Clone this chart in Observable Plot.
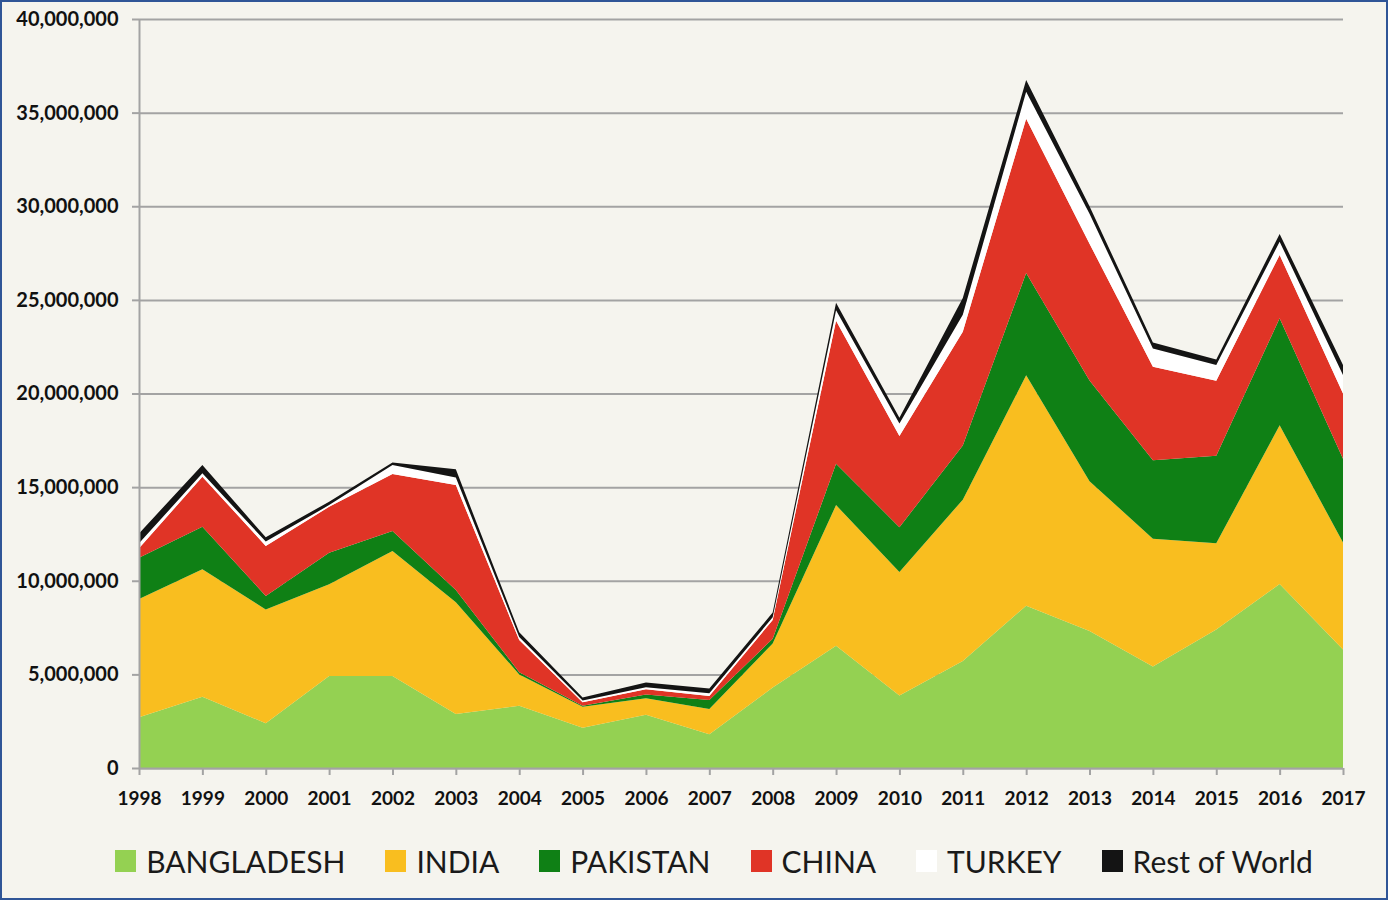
<!DOCTYPE html>
<html>
<head>
<meta charset="utf-8">
<script src="https://cdn.jsdelivr.net/npm/d3@7"></script>
<script src="https://cdn.jsdelivr.net/npm/@observablehq/plot@0.6"></script>
<style>
  html, body { margin: 0; padding: 0; background: #f5f4ee; }
  #page { position: relative; width: 1388px; height: 900px; background: #f5f4ee; overflow: hidden; font-family: Lato, "Open Sans", sans-serif; }
  #frame { position: absolute; left: 0; top: 0; width: 1388px; height: 900px; box-sizing: border-box; border: 2px solid #2f5597; pointer-events: none; }
  #legend { position: absolute; left: 0; top: 843px; width: 1388px; display: flex; justify-content: center; padding-left: 40px; box-sizing: border-box; font-size: 30px; color: #1a1a1a; }
  .item { display: flex; align-items: center; margin-right: 40px; }
  .item:last-child { margin-right: 0; }
  .sw { width: 21px; height: 22px; margin-right: 10px; }
</style>
</head>
<body>
<div id="page">
  <div id="chart"></div>
  <div id="legend"></div>
  <div id="frame"></div>
</div>
<script>
const years = [1998, 1999, 2000, 2001, 2002, 2003, 2004, 2005, 2006, 2007, 2008, 2009, 2010, 2011, 2012, 2013, 2014, 2015, 2016, 2017];
const countries = ["BANGLADESH", "INDIA", "PAKISTAN", "CHINA", "TURKEY", "Rest of World"];
const colors = ["#94d152", "#f9be1f", "#0f8015", "#e03426", "#ffffff", "#141414"];

const bangladesh = [2710000, 3810000, 2390000, 4910000, 4910000, 2880000, 3320000, 2150000, 2850000, 1800000, 4300000, 6530000, 3870000, 5710000, 8670000, 7320000, 5420000, 7390000, 9830000, 6330000];
const india      = [6320000, 6800000, 6080000, 4900000, 6680000, 5970000, 1680000, 1120000, 870000, 1350000, 2350000, 7510000, 6600000, 8620000, 12300000, 8000000, 6820000, 4610000, 8470000, 5710000];
const pakistan   = [2200000, 2280000, 720000, 1690000, 1070000, 660000, 120000, 60000, 210000, 480000, 250000, 2210000, 2390000, 2890000, 5460000, 5370000, 4190000, 4670000, 5720000, 4470000];
const china      = [500000, 2670000, 2670000, 2450000, 3040000, 5600000, 1710000, 180000, 270000, 220000, 1000000, 7640000, 4870000, 6080000, 8240000, 7310000, 5000000, 4010000, 3380000, 3490000];
const turkey     = [270000, 180000, 230000, 90000, 480000, 410000, 170000, 90000, 110000, 140000, 150000, 560000, 670000, 900000, 1450000, 1600000, 970000, 840000, 710000, 990000];
const restWorld  = [530000, 440000, 230000, 180000, 130000, 430000, 250000, 170000, 250000, 250000, 250000, 400000, 300000, 900000, 620000, 400000, 320000, 300000, 410000, 530000];

const yTicks = [0, 5000000, 10000000, 15000000, 20000000, 25000000, 30000000, 35000000, 40000000];

const series = [bangladesh, india, pakistan, china, turkey, restWorld];
const data = [];
countries.forEach((c, i) => years.forEach((y, j) => data.push({country: c, year: y, value: series[i][j]})));

const gray = "#a3a3a3";
const chart = Plot.plot({
  width: 1388,
  height: 830,
  marginLeft: 139,
  marginRight: 45,
  marginTop: 19,
  marginBottom: 62,
  style: {background: "transparent", fontFamily: "Lato, 'Open Sans', sans-serif", fontSize: "19px", fontWeight: "bold", color: "#111"},
  x: {domain: [1998, 2017], label: null},
  y: {domain: [0, 40000000], label: null},
  color: {domain: countries, range: colors},
  marks: [
    Plot.gridY(yTicks, {stroke: gray, strokeOpacity: 1, strokeWidth: 2}),
    Plot.areaY(data, {x: "year", y: "value", z: "country", fill: "country", order: countries}),
    Plot.ruleY([0], {stroke: gray, strokeWidth: 2}),
    Plot.ruleX([1998], {stroke: gray, strokeWidth: 2}),
    Plot.axisX(years, {tickSize: 7, tickPadding: 16, stroke: gray, strokeWidth: 2, tickFormat: "d", fill: "#111", fontWeight: "bold", label: null}),
    Plot.axisY(yTicks, {tickSize: 7, tickPadding: 14, stroke: gray, strokeWidth: 2, tickFormat: d3.format(","), fill: "#111", fontWeight: "bold", fontSize: 20, label: null})
  ]
});
document.getElementById("chart").appendChild(chart);

const legend = document.getElementById("legend");
countries.forEach((c, i) => {
  const item = document.createElement("div");
  item.className = "item";
  const sw = document.createElement("span");
  sw.className = "sw";
  sw.style.background = colors[i];
  const t = document.createElement("span");
  t.textContent = c;
  item.appendChild(sw);
  item.appendChild(t);
  legend.appendChild(item);
});
</script>
</body>
</html>
